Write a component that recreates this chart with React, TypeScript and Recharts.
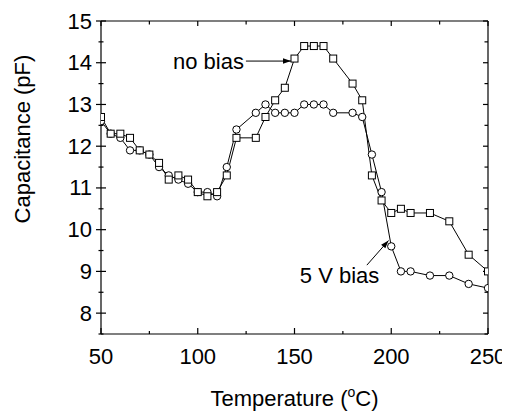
import React from "react";
import { LineChart, Line, XAxis, YAxis, ReferenceLine } from "recharts";

const temps = [50, 55, 60, 65, 70, 75, 80, 85, 90, 95, 100, 105, 110, 115, 120, 130, 135, 140, 145, 150, 155, 160, 165, 170, 180, 185, 190, 195, 200, 205, 210, 220, 230, 240, 250];
const noBias = [12.7, 12.3, 12.3, 12.2, 11.9, 11.8, 11.6, 11.2, 11.3, 11.2, 10.9, 10.8, 10.9, 11.3, 12.2, 12.2, 12.7, 13.1, 13.4, 14.1, 14.4, 14.4, 14.4, 14.1, 13.5, 13.1, 11.3, 10.7, 10.4, 10.5, 10.4, 10.4, 10.2, 9.4, 9.0];
const bias5V = [12.6, 12.3, 12.2, 11.9, 11.9, 11.8, 11.5, 11.3, 11.2, 11.1, 10.9, 10.9, 10.8, 11.5, 12.4, 12.8, 13.0, 12.8, 12.8, 12.8, 13.0, 13.0, 13.0, 12.8, 12.8, 12.7, 11.8, 10.9, 9.6, 9.0, 9.0, 8.9, 8.9, 8.7, 8.6];
const xTicks = [50, 75, 100, 125, 150, 175, 200, 225, 250];
const yTicks = [7.5, 8, 8.5, 9, 9.5, 10, 10.5, 11, 11.5, 12, 12.5, 13, 13.5, 14, 14.5, 15];
const xTitle = "Temperature (";
const yTitle = "Capacitance (pF)";
const noBiasLabel = "no bias";
const biasLabel = "5 V bias";

const data = temps.map((t, i) => ({ t, noBias: noBias[i], bias5V: bias5V[i] }));

const X_MIN = 50;
const X_MAX = 250;
const Y_MIN = 7.5;
const Y_MAX = 15;
// interior reference points used to recover the pixel scale for the frame
const RX0 = 60;
const RX1 = 240;
const RY0 = 8;
const RY1 = 14.5;

const FONT = "'Liberation Sans', Arial, Helvetica, sans-serif";
const FS = 22;

const isMajorX = (v: number) => v % 50 === 0;
const isMajorY = (v: number) => Number.isInteger(v);

const BottomTick = (p: any) => {
  const { x, y, payload } = p;
  const major = isMajorX(payload.value);
  return (
    <g>
      <line x1={x} x2={x} y1={y} y2={y - (major ? 6 : 3)} stroke="#000" strokeWidth={1.2} />
      {major && (
        <text x={x} y={y + 30} textAnchor="middle" fontSize={FS} fontFamily={FONT} fill="#000">
          {payload.value}
        </text>
      )}
    </g>
  );
};

const LeftTick = (p: any) => {
  const { x, y, payload } = p;
  const v = payload.value;
  const major = isMajorY(v);
  const h = major ? 5 : 2.5;
  return (
    <g>
      <line x1={x - h} x2={x + h} y1={y} y2={y} stroke="#000" strokeWidth={1.2} />
      {major && (
        <text x={x - 9} y={y} textAnchor="end" dominantBaseline="central" fontSize={FS} fontFamily={FONT} fill="#000">
          {v}
        </text>
      )}
    </g>
  );
};

const SquareDot = (p: any) => {
  const { cx, cy, index } = p;
  if (cx == null || cy == null) return <g key={index} />;
  return <rect key={`s${index}`} x={cx - 3.5} y={cy - 3.5} width={7} height={7} fill="#fff" stroke="#000" strokeWidth={1} />;
};

const CircleDot = (p: any) => {
  const { cx, cy, index } = p;
  if (cx == null || cy == null) return <g key={index} />;
  return <circle key={`c${index}`} cx={cx} cy={cy} r={3.7} fill="#fff" stroke="#000" strokeWidth={1} />;
};

// Frame (top and right axes with inward ticks); pixel scale recovered from an interior scaled segment.
const FrameShape = (p: any) => {
  const { x1, y1, x2, y2 } = p; // (RX0, RY0) -> (RX1, RY1)
  if ([x1, y1, x2, y2].some((v) => typeof v !== "number" || isNaN(v))) return <g />;
  const px = (v: number) => x1 + ((v - RX0) / (RX1 - RX0)) * (x2 - x1);
  const py = (v: number) => y1 + ((v - RY0) / (RY1 - RY0)) * (y2 - y1);
  const L = px(X_MIN);
  const R = px(X_MAX);
  const T = py(Y_MAX);
  const B = py(Y_MIN);
  return (
    <g>
      <line x1={L} y1={T} x2={R} y2={T} stroke="#000" strokeWidth={1.2} />
      <line x1={R} y1={T} x2={R} y2={B} stroke="#000" strokeWidth={1.2} />
      {xTicks.map((v) => (
        <line key={`t${v}`} x1={px(v)} x2={px(v)} y1={T} y2={T + (isMajorX(v) ? 5 : 3.5)} stroke="#000" strokeWidth={1.2} />
      ))}
      {yTicks.map((v) => (
        <line key={`r${v}`} x1={R - (isMajorY(v) ? 5 : 3.5)} x2={R} y1={py(v)} y2={py(v)} stroke="#000" strokeWidth={1.2} />
      ))}
    </g>
  );
};

const arrowHead = (x1: number, y1: number, x2: number, y2: number) => {
  const dx = x2 - x1;
  const dy = y2 - y1;
  const len = Math.sqrt(dx * dx + dy * dy) || 1;
  const ux = dx / len;
  const uy = dy / len;
  const L = 8;
  const W = 2.8;
  const bx = x2 - ux * L;
  const by = y2 - uy * L;
  return `${x2},${y2} ${bx - uy * W},${by + ux * W} ${bx + uy * W},${by - ux * W}`;
};

const NoBiasArrow = (p: any) => {
  const { x1, y1, x2, y2 } = p;
  return (
    <g>
      <line x1={x1} y1={y1} x2={x2} y2={y2} stroke="#000" strokeWidth={1} />
      <polygon points={arrowHead(x1, y1, x2, y2)} fill="#000" />
      <text x={x1 - 2} y={y1 + 8} textAnchor="end" fontSize={FS} fontFamily={FONT} fill="#000">
        {noBiasLabel}
      </text>
    </g>
  );
};

const BiasArrow = (p: any) => {
  const { x1, y1, x2, y2 } = p;
  return (
    <g>
      <line x1={x1} y1={y1} x2={x2} y2={y2} stroke="#000" strokeWidth={1} />
      <polygon points={arrowHead(x1, y1, x2, y2)} fill="#000" />
      <text x={x1 - 67} y={y1 + 18} textAnchor="start" fontSize={FS} fontFamily={FONT} fill="#000">
        {biasLabel}
      </text>
    </g>
  );
};

const XTitle = (p: any) => {
  const vb = p.viewBox || { x: 0, y: 0, width: 0, height: 0 };
  const cx = vb.x + vb.width / 2;
  return (
    <text x={cx} y={vb.y + 72} textAnchor="middle" fontSize={FS} fontFamily={FONT} fill="#000">
      {xTitle}
      <tspan fontSize={14} dy={-9}>o</tspan>
      <tspan dy={9}>C)</tspan>
    </text>
  );
};

const YTitle = (p: any) => {
  const vb = p.viewBox || { x: 0, y: 0, width: 0, height: 0 };
  const cx = 22;
  const cy = vb.y + 118;
  return (
    <text x={cx} y={cy} transform={`rotate(-90, ${cx}, ${cy})`} textAnchor="middle" fontSize={FS} fontFamily={FONT} fill="#000">
      {yTitle}
    </text>
  );
};

const frame = { stroke: "#000", strokeWidth: 1.2 };

export default function App() {
  return (
    <div style={{ width: 502, height: 409 }}>
      <style>{`body { margin: 8px 8px 0 8px; } #root { width: 502px; height: 409px; } .recharts-wrapper, .recharts-surface { overflow: visible !important; }`}</style>
      <LineChart width={502} height={409} data={data} margin={{ top: 13, right: 22, bottom: 0, left: 0 }}>
        <XAxis
          dataKey="t"
          type="number"
          domain={[X_MIN, X_MAX]}
          allowDataOverflow
          ticks={xTicks}
          interval={0}
          height={83}
          tickSize={0}
          tickMargin={0}
          tickLine={false}
          tick={BottomTick}
          axisLine={frame}
          label={{ content: XTitle }}
        />
        <YAxis
          type="number"
          domain={[Y_MIN, Y_MAX]}
          allowDataOverflow
          ticks={yTicks}
          interval={0}
          width={93}
          tickSize={0}
          tickMargin={0}
          tickLine={false}
          tick={LeftTick}
          axisLine={frame}
          label={{ content: YTitle }}
        />
        <Line
          dataKey="bias5V"
          type="linear"
          stroke="#000"
          strokeWidth={1}
          dot={CircleDot}
          activeDot={false}
          isAnimationActive={false}
        />
        <Line
          dataKey="noBias"
          type="linear"
          stroke="#000"
          strokeWidth={1}
          dot={SquareDot}
          activeDot={false}
          isAnimationActive={false}
        />
        <ReferenceLine
          segment={[{ x: 124.9, y: 14.04 }, { x: 148.2, y: 14.04 }]}
          ifOverflow="visible"
          shape={NoBiasArrow}
        />
        <ReferenceLine
          segment={[{ x: 187.4, y: 9.15 }, { x: 198.6, y: 9.74 }]}
          ifOverflow="visible"
          shape={BiasArrow}
        />
        <ReferenceLine
          segment={[{ x: RX0, y: RY0 }, { x: RX1, y: RY1 }]}
          ifOverflow="visible"
          shape={FrameShape}
        />
      </LineChart>
    </div>
  );
}
